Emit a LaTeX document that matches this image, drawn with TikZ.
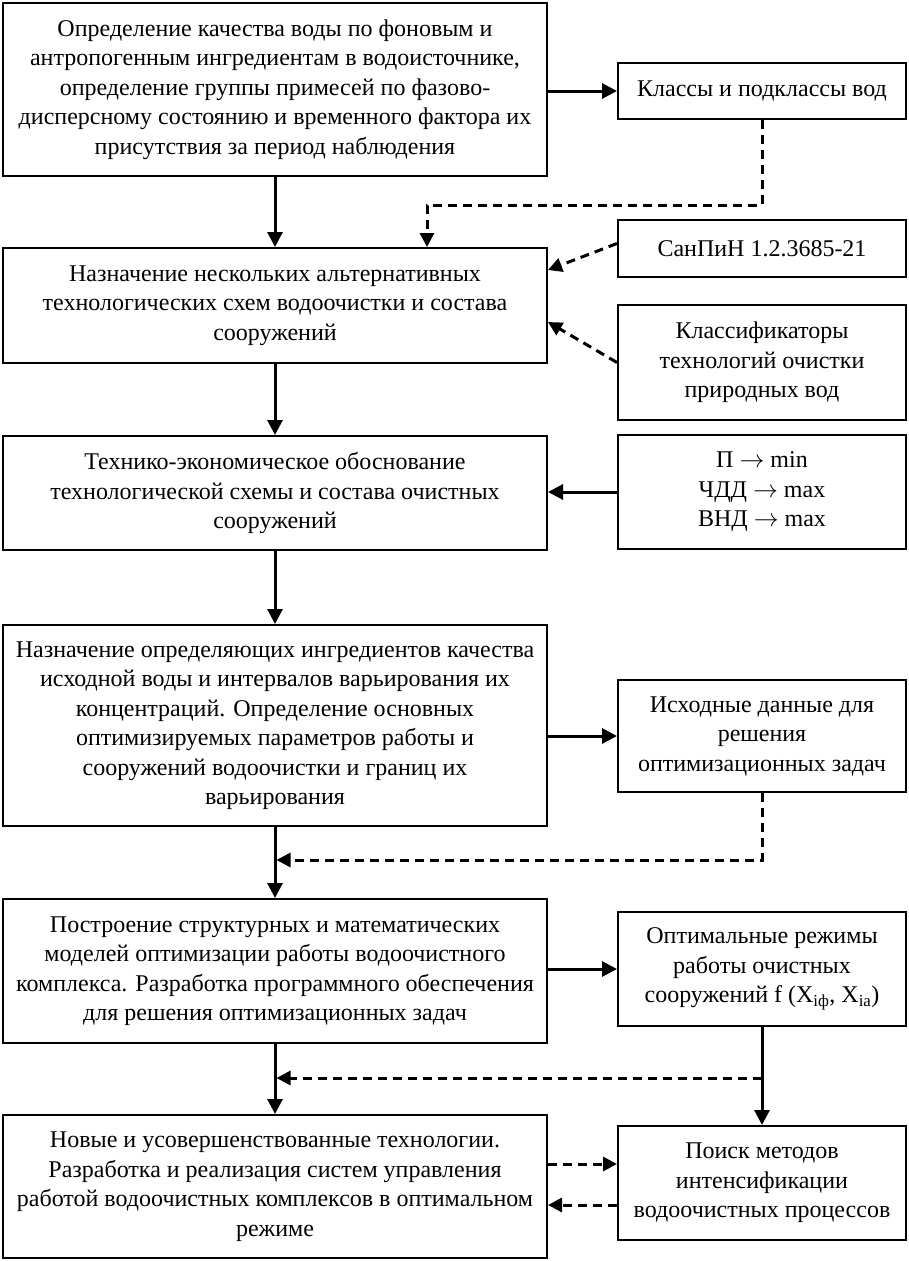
\documentclass[tikz,border=0pt]{standalone}
\usepackage{fontspec}
\setmainfont{Liberation Serif}
\usetikzlibrary{arrows.meta}
\begin{document}
\begin{tikzpicture}[x=1pt,y=-1pt,
 box/.style={draw, line width=2pt, align=center, inner sep=2pt, font=\fontsize{24}{29.5}\selectfont},
 lbox/.style={box, minimum width=544pt},
 rbox/.style={box, minimum width=288pt},
 sarr/.style={line width=3pt, -{Triangle[length=15pt,width=15pt]}},
 darr/.style={line width=3pt, dash pattern=on 9pt off 6pt, -{Triangle[length=14pt,width=14pt]}}]
\useasboundingbox[fill=white] (0,0) rectangle (909,1261);

\node[lbox, minimum height=173pt] (L1) at (275,89.5) {Определение качества воды по фоновым и\\ антропогенным ингредиентам в водоисточнике,\\ определение группы примесей по фазово-\\ дисперсному состоянию и временного фактора их\\ присутствия за период наблюдения};
\node[lbox, minimum height=115pt] (L2) at (275,305.5) {Назначение нескольких альтернативных\\ технологических схем водоочистки и состава\\ сооружений};
\node[lbox, minimum height=114pt] (L3) at (275,493) {Технико-экономическое обоснование\\ технологической схемы и состава очистных\\ сооружений};
\node[lbox, minimum height=201pt] (L4) at (275,725.5) {Назначение определяющих ингредиентов качества\\ исходной воды и интервалов варьирования их\\ концентраций. Определение основных\\ оптимизируемых параметров работы и\\ сооружений водоочистки и границ их\\ варьирования};
\node[lbox, minimum height=144pt] (L5) at (275,971) {Построение структурных и математических\\ моделей оптимизации работы водоочистного\\ комплекса. Разработка программного обеспечения\\ для решения оптимизационных задач};
\node[lbox, minimum height=143pt] (L6) at (275,1186.5) {Новые и усовершенствованные технологии.\\ Разработка и реализация систем управления\\ работой водоочистных комплексов в оптимальном\\ режиме};

\node[rbox, minimum height=56pt] (R1) at (762,91) {Классы и подклассы вод};
\node[rbox, minimum height=57pt] (R2) at (762,248.5) {СанПиН 1.2.3685-21};
\node[rbox, minimum height=115pt] (R3) at (762,362.5) {Классификаторы\\ технологий очистки\\ природных вод};
\node[rbox, minimum height=114pt] (R4) at (762,492) {П $\rightarrow$ min\\ ЧДД $\rightarrow$ max\\ ВНД $\rightarrow$ max};
\node[rbox, minimum height=112pt] (R5) at (762,736) {Исходные данные для\\ решения\\ оптимизационных задач};
\node[rbox, minimum height=114pt] (R6) at (762,969) {Оптимальные режимы\\ работы очистных\\ сооружений f (X\textsubscript{iф}, X\textsubscript{ia})};
\node[rbox, minimum height=114pt] (R7) at (762,1183) {Поиск методов\\ интенсификации\\ водоочистных процессов};

\coordinate (c1) at (427,0);
\coordinate (h1) at (0,205);
\coordinate (h2) at (0,860);
\coordinate (h3) at (0,1078);
\coordinate (h4) at (0,1164);
\coordinate (h5) at (0,1205);

% solid main flow
\draw[sarr] (L1.south) -- (L2.north);
\draw[sarr] (L2.south) -- (L3.north);
\draw[sarr] (L3.south) -- (L4.north);
\draw[sarr] (L4.south) -- (L5.north);
\draw[sarr] (L5.south) -- (L6.north);

% solid side arrows
\draw[sarr] (L1.east |- R1.west) -- (R1.west);
\draw[sarr] (R4.west) -- (R4.west -| L3.east);
\draw[sarr] (L4.east |- R5.west) -- (R5.west);
\draw[sarr] (L5.east |- R6.west) -- (R6.west);
\draw[sarr] (R6.south) -- (R7.north);

% dashed
\draw[darr] (R1.south) |- (c1 |- h1) -- (c1 |- L2.north);
\draw[darr] ([yshift=5pt]R2.west) -- ([yshift=35.5pt]L2.east);
\draw[darr] (R3.west) -- ([yshift=-16.5pt]L2.east);
\draw[darr] (R5.south) |- ([xshift=1.5pt]h2 -| L4.south);
\draw[darr] (h3 -| R6.south) -- ([xshift=1.5pt]h3 -| L5.south);
\draw[darr] (h4 -| L6.east) -- (h4 -| R7.west);
\draw[darr] (h5 -| R7.west) -- (h5 -| L6.east);
\end{tikzpicture}
\end{document}
